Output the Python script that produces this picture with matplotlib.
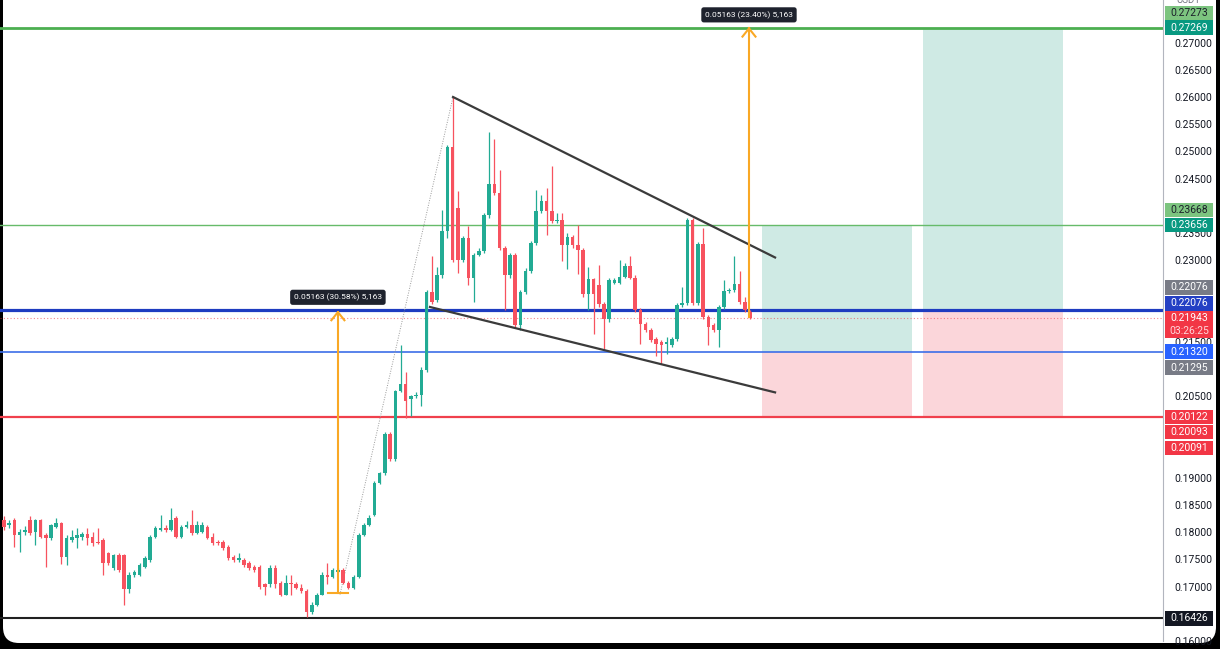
import numpy as np
import matplotlib.pyplot as plt
from matplotlib.patches import FancyBboxPatch, Rectangle
from matplotlib.transforms import IdentityTransform, blended_transform_factory

plt.rcParams['font.family'] = ['Roboto', 'DejaVu Sans']

# OHLC (price in USDT)
opens = [
    .1822, .1813, .1822, .1795, .1800, .1822, .1800, .1822, .1795, .1789,
    .1809, .1817, .1755, .1786, .1789, .1791, .1797, .1791, .1782, .1786,
    .1762, .1735, .1758, .1758, .1695, .1722, .1722, .1736, .1749, .1791,
    .1804, .1808, .1804, .1826, .1791, .1809, .1813, .1798, .1800, .1809,
    .1791, .1782, .1782, .1773, .1755, .1749, .1749, .1744, .1736, .1736,
    .1704, .1704, .1735, .1707, .1685, .1707, .1705, .1698, .1691, .1653,
    .1667, .1685, .1722, .1718, .1727, .1731, .1707, .1698, .1718, .1795,
    .1813, .1831, .1891, .1908, .1980, .1935, .2059, .2072, .2044, .2050,
    .2053, .2099, .2241, .2226, .2272, .2354, .2509, .2396, .2301, .2341,
    .2268, .2310, .2317, .2383, .2440, .2423, .2323, .2272, .2310, .2181,
    .2241, .2281, .2332, .2390, .2409, .2390, .2372, .2374, .2328, .2343,
    .2328, .2319, .2237, .2265, .2254, .2219, .2192, .2259, .2259, .2270,
    .2290, .2268, .2208, .2183, .2172, .2155, .2150, .2146, .2144, .2155,
    .2217, .2221, .2374, .2221, .2330, .2195, .2181, .2172, .2214, .2243,
    .2245, .2256, .2223, .2204]
highs = [
    .1829, .1822, .1827, .1806, .1811, .1829, .1824, .1824, .1798, .1815,
    .1826, .1818, .1795, .1804, .1808, .1800, .1808, .1800, .1808, .1789,
    .1764, .1760, .1762, .1760, .1726, .1731, .1744, .1756, .1795, .1811,
    .1831, .1813, .1844, .1829, .1813, .1820, .1840, .1820, .1818, .1813,
    .1798, .1786, .1786, .1777, .1758, .1762, .1753, .1747, .1740, .1740,
    .1707, .1740, .1740, .1711, .1722, .1722, .1709, .1704, .1695, .1671,
    .1689, .1726, .1744, .1735, .1735, .1735, .1711, .1722, .1798, .1817,
    .1831, .1895, .1911, .1984, .1984, .2062, .2144, .2095, .2053, .2057,
    .2104, .2245, .2308, .2287, .2392, .2512, .2600, .2427, .2345, .2363,
    .2314, .2323, .2387, .2536, .2523, .2465, .2327, .2314, .2314, .2245,
    .2285, .2336, .2429, .2420, .2432, .2474, .2387, .2387, .2350, .2347,
    .2365, .2323, .2287, .2268, .2292, .2223, .2267, .2267, .2301, .2294,
    .2308, .2272, .2212, .2186, .2175, .2159, .2153, .2159, .2159, .2221,
    .2250, .2378, .2378, .2334, .2359, .2199, .2184, .2217, .2263, .2248,
    .2308, .2281, .2232, .2208]
lows = [
    .1804, .1808, .1773, .1764, .1795, .1795, .1777, .1789, .1736, .1786,
    .1808, .1742, .1740, .1782, .1771, .1786, .1777, .1775, .1778, .1722,
    .1740, .1731, .1727, .1667, .1689, .1718, .1720, .1735, .1746, .1789,
    .1802, .1800, .1802, .1789, .1789, .1808, .1795, .1797, .1798, .1787,
    .1777, .1777, .1767, .1749, .1746, .1746, .1736, .1731, .1726, .1696,
    .1685, .1700, .1698, .1682, .1684, .1685, .1695, .1689, .1644, .1649,
    .1665, .1684, .1704, .1716, .1726, .1704, .1696, .1695, .1716, .1793,
    .1811, .1829, .1889, .1906, .1931, .1931, .2057, .2010, .2013, .2046,
    .2032, .2095, .2219, .2223, .2268, .2341, .2296, .2277, .2296, .2254,
    .2223, .2308, .2314, .2378, .2420, .2319, .2208, .2268, .2177, .2172,
    .2237, .2277, .2328, .2387, .2347, .2368, .2368, .2299, .2283, .2323,
    .2274, .2232, .2208, .2164, .2214, .2137, .2186, .2256, .2256, .2267,
    .2265, .2204, .2146, .2168, .2150, .2123, .2110, .2128, .2141, .2152,
    .2214, .2217, .2217, .2217, .2192, .2144, .2168, .2141, .2210, .2239,
    .2241, .2219, .2204, .2192]
closes = [
    .1809, .1817, .1795, .1800, .1804, .1798, .1822, .1791, .1789, .1813,
    .1817, .1755, .1789, .1791, .1795, .1797, .1789, .1780, .1780, .1744,
    .1744, .1758, .1731, .1695, .1722, .1726, .1740, .1753, .1791, .1808,
    .1808, .1804, .1822, .1791, .1809, .1813, .1798, .1813, .1813, .1789,
    .1780, .1780, .1771, .1753, .1749, .1753, .1740, .1735, .1731, .1700,
    .1700, .1735, .1704, .1685, .1707, .1704, .1698, .1691, .1653, .1667,
    .1685, .1722, .1718, .1731, .1731, .1707, .1698, .1718, .1795, .1813,
    .1827, .1891, .1908, .1980, .1935, .2059, .2072, .2041, .2050, .2053,
    .2099, .2241, .2223, .2272, .2354, .2509, .2301, .2301, .2341, .2268,
    .2310, .2317, .2383, .2440, .2423, .2323, .2272, .2310, .2181, .2241,
    .2281, .2332, .2390, .2409, .2390, .2372, .2374, .2328, .2343, .2328,
    .2319, .2237, .2265, .2237, .2219, .2192, .2263, .2263, .2270, .2290,
    .2268, .2208, .2183, .2172, .2153, .2146, .2144, .2150, .2155, .2217,
    .2221, .2374, .2221, .2330, .2195, .2177, .2172, .2214, .2243, .2245,
    .2256, .2223, .2208, .21943]

# horizontal levels
tp2_level = 0.27269
tp1_level = 0.23656
entry_level = 0.22076
last_price = 0.21943
support_level = 0.21320
stop_level = 0.20122
low_level = 0.16426

# measure tools
measure_labels = ["0.05163 (30.58%) 5,163", "0.05163 (23.40%) 5,163"]
measure1 = (0.16883, 0.22046)
measure2 = (0.21950, 0.27260)

# price scale labels: (text, position, background, text colour)
scale_labels = [
    ("0.27273", 0.27546, '#7cc47f', '#1b1f2a'),
    ("0.27269", 0.27273, '#089981', 'white'),
    ("0.23668", 0.23921, '#7cc47f', '#1b1f2a'),
    ("0.23656", 0.23648, '#089981', 'white'),
    ("0.22076", 0.22501, '#787b86', 'white'),
    ("0.22076", 0.22209, '#2440c4', 'white'),
    ("0.21320", 0.21317, '#2962ff', 'white'),
    ("0.21295", 0.21025, '#787b86', 'white'),
    ("0.20122", 0.20115, '#f23645', 'white'),
    ("0.20093", 0.19841, '#f23645', 'white'),
    ("0.20091", 0.19550, '#f23645', 'white'),
    ("0.16426", 0.16417, '#131722', 'white'),
]
countdown = "03:26:25"
tick_values = [0.160, 0.170, 0.175, 0.180, 0.185, 0.190, 0.205, 0.215,
               0.230, 0.235, 0.245, 0.250, 0.255, 0.260, 0.265, 0.270]

GREEN = '#22ab94'
RED = '#f7525f'
ORANGE = '#f9a825'

fig = plt.figure(figsize=(12.2, 6.49), dpi=100, facecolor='black')
screen = FancyBboxPatch((3, 6), 1213, 700, boxstyle='round,pad=0,rounding_size=16',
                        transform=IdentityTransform(), fc='white', ec='none', zorder=-10)
fig.patches.append(screen)

ax = fig.add_axes([0, 8 / 649, 1163 / 1220, 641 / 649])
ax.set_facecolor('none')
ax.set_xlim(-0.77, 222.16)
ax.set_ylim(0.16107, 0.27783)

o = np.array(opens); h = np.array(highs); l = np.array(lows); c = np.array(closes)
x = np.arange(len(o))
cols = np.where(c >= o, GREEN, RED)
ax.vlines(x, l, h, colors=cols, lw=0.9, zorder=3)
body_low = np.minimum(o, c)
body_h = np.maximum(np.abs(c - o), 0.00012)
ax.bar(x, body_h, bottom=body_low, width=0.68, color=cols, zorder=3)

# position boxes
ax.add_patch(Rectangle((145.3, support_level), 28.7, tp1_level - support_level, fc='#cfeae4', ec='none', zorder=0.5))
ax.add_patch(Rectangle((145.3, stop_level), 28.7, support_level - stop_level, fc='#fbd6da', ec='none', zorder=0.5))
ax.add_patch(Rectangle((176.2, entry_level), 26.8, tp2_level - entry_level, fc='#cfeae4', ec='none', zorder=0.5))
ax.add_patch(Rectangle((176.2, stop_level), 26.8, entry_level - stop_level, fc='#fbd6da', ec='none', zorder=0.5))

# horizontal lines
ax.axhline(tp2_level, color='#4caf50', lw=2.0, zorder=2)
ax.axhline(tp1_level, color='#66bb6a', lw=1.0, zorder=2)
ax.axhline(last_price, color='#f23645', lw=0.8, ls=(0, (1, 2)), alpha=0.6, zorder=2)
ax.axhline(entry_level, color='#1e3cc0', lw=2.3, zorder=2)
ax.axhline(support_level, color='#3c6ee8', lw=1.2, zorder=2)
ax.axhline(stop_level, color='#f0404c', lw=1.6, zorder=2)
ax.axhline(low_level, color='#202020', lw=1.5, zorder=2)

# wedge trendlines
ax.plot([86.07, 147.8], [0.2600, 0.2305], color='#3b3b3b', lw=1.6, zorder=4)
ax.plot([81.65, 147.8], [0.2214, 0.2057], color='#3b3b3b', lw=1.6, zorder=4)
ax.plot([64.4, 86.07], [0.16854, 0.2600], color='#9a9a9a', lw=0.7, ls=(0, (1, 1.5)), zorder=2.5)

# measure arrows
ax.plot([64.0, 64.0], measure1, color=ORANGE, lw=1.5, zorder=4)
ax.plot([62.1, 65.9], [measure1[0]] * 2, color=ORANGE, lw=1.5, zorder=4)
ax.plot([62.75, 64.0, 65.25], [measure1[1] - 0.0015, measure1[1], measure1[1] - 0.0015], color=ORANGE, lw=1.5, zorder=4)
ax.plot([142.8, 142.8], measure2, color=ORANGE, lw=1.5, zorder=4)
ax.plot([141.55, 142.8, 144.05], [measure2[1] - 0.0015, measure2[1], measure2[1] - 0.0015], color=ORANGE, lw=1.5, zorder=4)
ax.text(64.0, 0.22318, measure_labels[0], ha='center', va='center', fontsize=6, color='white', zorder=6,
        bbox=dict(boxstyle='round,pad=0.45,rounding_size=0.3', fc='#1e222d', ec='none'))
ax.text(142.8, 0.27510, measure_labels[1], ha='center', va='center', fontsize=6, color='white', zorder=6,
        bbox=dict(boxstyle='round,pad=0.45,rounding_size=0.3', fc='#1e222d', ec='none'))

# price scale
for s in ['top', 'left', 'bottom']:
    ax.spines[s].set_visible(False)
ax.spines['right'].set_color('#b2b5be')
ax.set_xticks([])
ax.yaxis.tick_right()
ax.set_yticks(tick_values)
ax.set_yticklabels([f"{v:.5f}" for v in tick_values])
ax.tick_params(axis='y', length=0, pad=8, labelsize=7.5, labelcolor='#131722')

tr = blended_transform_factory(ax.transAxes, ax.transData)
x0, x1 = 1.0015, 1213 / 1163
lh = 0.0027
for txt, pos, bg, fg in scale_labels:
    ax.add_patch(Rectangle((x0, pos - lh / 2), x1 - x0, lh, transform=tr, fc=bg, ec='none', clip_on=False, zorder=5))
    ax.text((x0 + x1) / 2, pos, txt, transform=tr, ha='center', va='center', fontsize=7.5, color=fg, zorder=6, clip_on=False)
ax.add_patch(Rectangle((x0, 0.21818 - 0.00245), x1 - x0, 0.0049, transform=tr, fc='#f23645', ec='none', clip_on=False, zorder=5))
ax.text((x0 + x1) / 2, 0.21936, f"{last_price:.5f}", transform=tr, ha='center', va='center', fontsize=7.5, color='white', zorder=6, clip_on=False)
ax.text((x0 + x1) / 2, 0.21700, countdown, transform=tr, ha='center', va='center', fontsize=7.5, color='#ffd6d9', zorder=6, clip_on=False)
ax.text((x0 + x1) / 2, 1.0, "USDT", transform=ax.transAxes, ha='center', va='center', fontsize=7, color='#787b86', clip_on=False)

fig.savefig('out.png', dpi=100, facecolor='black')
